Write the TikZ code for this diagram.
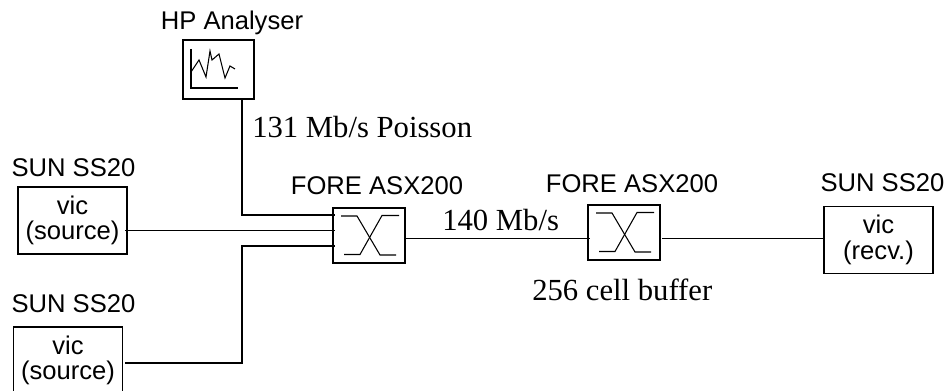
\documentclass[tikz,border=0pt]{standalone}
\usepackage{fontspec}
\setmainfont{Liberation Serif}
\setsansfont{Liberation Sans}
\usetikzlibrary{positioning}
\tikzset{
  hostbox/.style={draw, line width=1pt, minimum width=81.75pt, minimum height=50.25pt, inner sep=0pt, align=center, font=\sffamily\fontsize{19.2}{19}\selectfont},
  switchbox/.style={draw, line width=1pt, minimum width=54pt, minimum height=41.25pt, inner sep=0pt},
  caption/.style={inner sep=0pt, anchor=base, font=\sffamily\fontsize{19.2}{19}\selectfont},
  linklabel/.style={inner sep=0pt, anchor=base west, font=\fontsize{23}{25}\selectfont},
  link/.style={draw, line width=0.8pt}
}
\newcommand{\crossglyph}[1]{
  \draw[link] ([shift={(-28,-19.5)}]#1.center) -- ++(16,0) -- ++(23,39) -- ++(16,0);
  \draw[link] ([shift={(-25,19)}]#1.center) -- ++(16,0) -- ++(22,-39) -- ++(17,0);
}
\begin{document}
\begin{tikzpicture}[x=0.75pt, y=-0.75pt]
  \useasboundingbox (0,0) rectangle (950,391);
  % analyser
  \node[draw, line width=1pt, minimum width=53.25pt, minimum height=44.25pt, inner sep=0pt] (hp) at (218.5,69.5) {};
  \node[caption] (hplabel) at (232,30) {HP Analyser};
  \draw[link] (191,49) -- (191,88) -- (238,88);
  \draw[link] (191,72) -- (199,60) -- (206,77) -- (210,51) -- (212,60) -- (219,54) -- (225,78) -- (230,66) -- (235,69);
  % switches
  \node[switchbox] (sw1) at (369,235.5) {};
  \node[switchbox] (sw2) at (624,232.5) {};
  \node[caption] (sw1label) at (377,195) {FORE ASX200};
  \node[caption] (sw2label) at (632,193) {FORE ASX200};
  \crossglyph{sw1}
  \crossglyph{sw2}
  % hosts
  \node[hostbox] (src1) at (72.5,220.5) {\raisebox{-0.75pt}{vic}\\\raisebox{-0.75pt}{(source)}};
  \node[hostbox] (src2) at (68,360.5) {vic\\(source)};
  \node[hostbox] (recv) at (878.5,240) {vic\\(recv.)};
  \node[caption] (src1label) at (73.5,177) {SUN SS20};
  \node[caption] (src2label) at (73.5,313) {SUN SS20};
  \node[caption] (recvlabel) at (882.5,192) {SUN SS20};
  % links
  \coordinate (hpbend) at (242,215);
  \coordinate (hpin) at (335,215);
  \coordinate (src1out) at (125,230.5);
  \coordinate (src1in) at (335,230.5);
  \coordinate (src2out) at (125,363);
  \coordinate (src2in) at (335,246);
  \coordinate (sw2in) at (590,238.5);
  \coordinate (sw2out) at (662,238.5);
  \draw[link] (hp.south -| hpbend) -- (hpbend) -- (hpin);
  \draw[link] (src1out) -- (src1in);
  \draw[link] (src2out) -- (src2out -| hpbend) -- (src2in -| hpbend) -- (src2in);
  \draw[link] (sw1.east |- sw2in) -- (sw2in);
  \draw[link] (sw2out) -- (recv.west |- sw2out);
  % labels
  \node[linklabel] (poisson) at (252,138) {131 Mb/s Poisson};
  \node[linklabel] (rate) at (442,231) {140 Mb/s};
  \node[linklabel] (buffer) at (532,301) {256 cell buffer};
\end{tikzpicture}
\end{document}
